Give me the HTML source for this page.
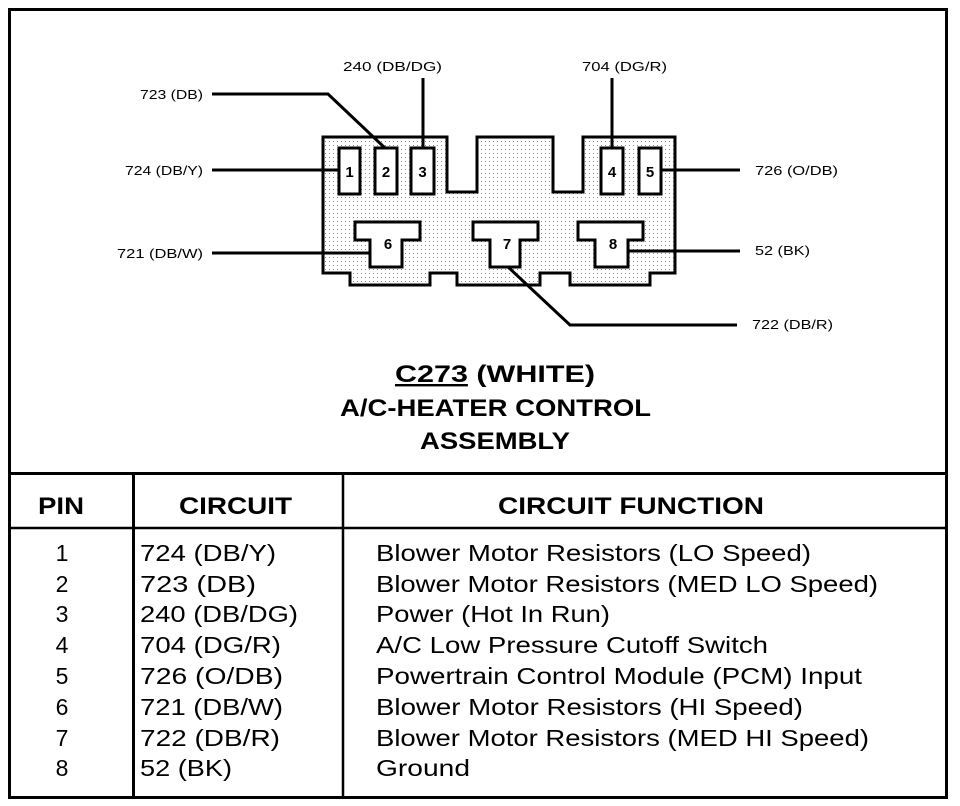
<!DOCTYPE html>
<html><head><style>
html,body{margin:0;padding:0;background:#fff}
svg{display:block}
text{font-family:"Liberation Sans",Arial,sans-serif;fill:#000}
</style></head><body>
<svg width="960" height="806" viewBox="0 0 960 806" xmlns="http://www.w3.org/2000/svg">
<defs>
<pattern id="dots" width="4" height="4" patternUnits="userSpaceOnUse"><rect width="4" height="4" fill="#fff"/><rect x="1" y="1" width="1" height="1" fill="#888"/></pattern>
</defs>
<rect x="9.5" y="9.5" width="937" height="788" fill="none" stroke="#000" stroke-width="3"/>
<line x1="9" y1="473.5" x2="947" y2="473.5" stroke="#000" stroke-width="3"/>
<line x1="9" y1="528" x2="947" y2="528" stroke="#000" stroke-width="2.5"/>
<line x1="133.5" y1="473" x2="133.5" y2="797" stroke="#000" stroke-width="3"/>
<line x1="343" y1="473" x2="343" y2="797" stroke="#000" stroke-width="2.5"/>

<path d="M323 137 H447 V192 H477 V137 H553 V192 H583 V137 H675 V273 H650 V285 H570 V273 H540 V285 H457 V273 H430 V285 H350 V273 H323 Z" fill="url(#dots)" stroke="#000" stroke-width="3"/>
<g fill="#fff" stroke="#000" stroke-width="3">
<rect x="339" y="148" width="21" height="46"/>
<rect x="375" y="148" width="22" height="46"/>
<rect x="411" y="148" width="23" height="46"/>
<rect x="601" y="148" width="22" height="46"/>
<rect x="639" y="148" width="22" height="46"/>
<path d="M355 222 H420 V240 H402 V267 H370 V240 H355 Z"/>
<path d="M473 222 H538 V240 H520 V267 H490 V240 H473 Z"/>
<path d="M578 222 H643 V240 H628 V267 H595 V240 H578 Z"/>
</g>
<g font-size="15" font-weight="bold" text-anchor="middle">
<text x="349.5" y="177">1</text><text x="386" y="177">2</text><text x="422.5" y="177">3</text>
<text x="612" y="177">4</text><text x="650" y="177">5</text>
<text x="388" y="249">6</text><text x="507" y="249">7</text><text x="613" y="249">8</text>
</g>
<g stroke="#000" stroke-width="3" fill="none">
<polyline points="212,94 328,94 385,148"/>
<line x1="423" y1="78" x2="423" y2="148"/>
<line x1="612" y1="78" x2="612" y2="148"/>
<line x1="212" y1="170" x2="339" y2="170"/>
<line x1="661" y1="170" x2="740" y2="170"/>
<line x1="212" y1="253" x2="370" y2="253"/>
<line x1="628" y1="251" x2="740" y2="251"/>
<polyline points="508,267 570,325 737,325"/>
</g>
<g font-size="13">
<text x="140" y="99" textLength="63" lengthAdjust="spacingAndGlyphs">723 (DB)</text>
<text x="343" y="71" textLength="99" lengthAdjust="spacingAndGlyphs">240 (DB/DG)</text>
<text x="582" y="71" textLength="85" lengthAdjust="spacingAndGlyphs">704 (DG/R)</text>
<text x="125" y="175" textLength="78" lengthAdjust="spacingAndGlyphs">724 (DB/Y)</text>
<text x="755" y="175" textLength="83" lengthAdjust="spacingAndGlyphs">726 (O/DB)</text>
<text x="117" y="258" textLength="86" lengthAdjust="spacingAndGlyphs">721 (DB/W)</text>
<text x="755" y="255" textLength="55" lengthAdjust="spacingAndGlyphs">52 (BK)</text>
<text x="752" y="329" textLength="81" lengthAdjust="spacingAndGlyphs">722 (DB/R)</text>
</g>
<g font-size="24" font-weight="bold">
<text x="395" y="382" textLength="200" lengthAdjust="spacingAndGlyphs"><tspan text-decoration="underline">C273</tspan>   (WHITE)</text>
<text x="340" y="416" textLength="311" lengthAdjust="spacingAndGlyphs">A/C-HEATER CONTROL</text>
<text x="420" y="449" textLength="150" lengthAdjust="spacingAndGlyphs">ASSEMBLY</text>
<text x="38" y="514" textLength="46" lengthAdjust="spacingAndGlyphs">PIN</text>
<text x="179" y="514" textLength="113" lengthAdjust="spacingAndGlyphs">CIRCUIT</text>
<text x="498" y="514" textLength="266" lengthAdjust="spacingAndGlyphs">CIRCUIT FUNCTION</text>
</g>
<g font-size="23">
<g text-anchor="middle">
<text x="62" y="561">1</text><text x="62" y="592">2</text><text x="62" y="622">3</text><text x="62" y="653">4</text>
<text x="62" y="684">5</text><text x="62" y="715">6</text><text x="62" y="746">7</text><text x="62" y="776">8</text>
</g>
<text x="140" y="561" textLength="136" lengthAdjust="spacingAndGlyphs">724 (DB/Y)</text>
<text x="140" y="592" textLength="116" lengthAdjust="spacingAndGlyphs">723 (DB)</text>
<text x="140" y="622" textLength="158" lengthAdjust="spacingAndGlyphs">240 (DB/DG)</text>
<text x="140" y="653" textLength="141" lengthAdjust="spacingAndGlyphs">704 (DG/R)</text>
<text x="140" y="684" textLength="143" lengthAdjust="spacingAndGlyphs">726 (O/DB)</text>
<text x="140" y="715" textLength="143" lengthAdjust="spacingAndGlyphs">721 (DB/W)</text>
<text x="140" y="746" textLength="140" lengthAdjust="spacingAndGlyphs">722 (DB/R)</text>
<text x="140" y="776" textLength="92" lengthAdjust="spacingAndGlyphs">52 (BK)</text>
<text x="376" y="561" textLength="435" lengthAdjust="spacingAndGlyphs">Blower Motor Resistors (LO Speed)</text>
<text x="376" y="592" textLength="502" lengthAdjust="spacingAndGlyphs">Blower Motor Resistors (MED LO Speed)</text>
<text x="376" y="622" textLength="234" lengthAdjust="spacingAndGlyphs">Power (Hot In Run)</text>
<text x="376" y="653" textLength="392" lengthAdjust="spacingAndGlyphs">A/C Low Pressure Cutoff Switch</text>
<text x="376" y="684" textLength="486" lengthAdjust="spacingAndGlyphs">Powertrain Control Module (PCM) Input</text>
<text x="376" y="715" textLength="427" lengthAdjust="spacingAndGlyphs">Blower Motor Resistors (HI Speed)</text>
<text x="376" y="746" textLength="493" lengthAdjust="spacingAndGlyphs">Blower Motor Resistors (MED HI Speed)</text>
<text x="376" y="776" textLength="94" lengthAdjust="spacingAndGlyphs">Ground</text>
</g>
</svg>
</body></html>
